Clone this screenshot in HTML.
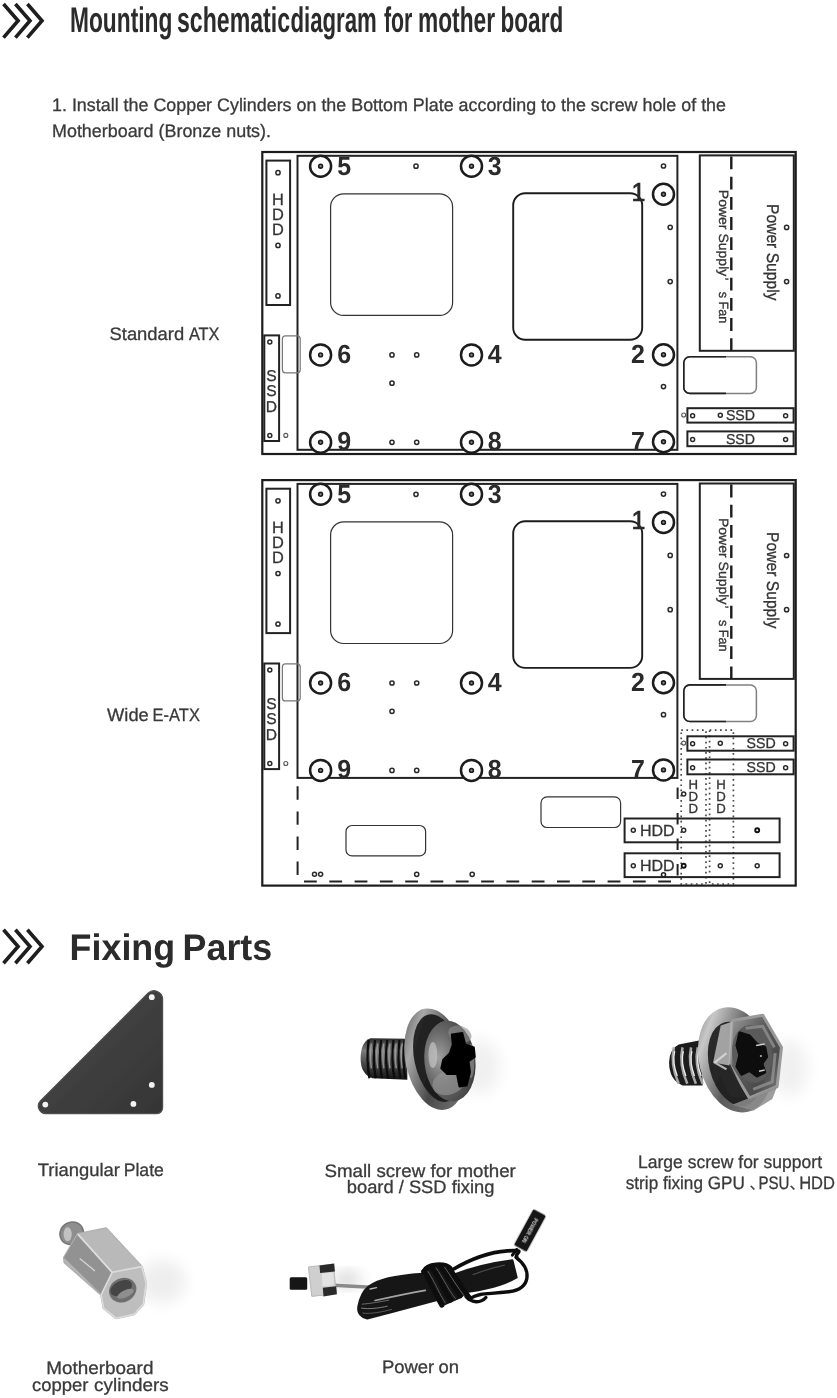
<!DOCTYPE html>
<html lang="en">
<head>
<meta charset="utf-8">
<title>Mounting schematic diagram for mother board</title>
<style>
html,body{margin:0;padding:0;background:#fff;}
body{width:837px;height:1398px;overflow:hidden;position:relative;font-family:"Liberation Sans","Noto Sans CJK SC",sans-serif;}
svg{position:absolute;left:0;top:0;display:block;will-change:transform;}
svg text{font-family:"Liberation Sans","Noto Sans CJK SC",sans-serif;text-rendering:geometricPrecision;}
.num{font-weight:bold;font-size:26.2px;fill:#2a2a2a;}
.lbl{fill:#333;stroke:#333;stroke-width:0.3px;}
.t{fill:#3a3a3a;font-size:18px;stroke:#3a3a3a;stroke-width:0.3px;}
.h1{fill:#2b2b2b;font-weight:bold;font-size:35.6px;}
.h2{fill:#2b2b2b;font-weight:bold;font-size:37px;}
</style>
</head>
<body>
<svg width="837" height="1398" viewBox="0 0 837 1398">
<g fill="none" stroke="#1e1e1e" stroke-width="3.6" stroke-linejoin="miter"><polyline points="3.5,4.0 18.1,20.8 3.5,37.6"/><polyline points="15.4,4.0 30.0,20.8 15.4,37.6"/><polyline points="27.4,4.0 42.0,20.8 27.4,37.6"/></g><g fill="none" stroke="#1e1e1e" stroke-width="3.6" stroke-linejoin="miter"><polyline points="3.5,929.8 18.1,946.5 3.5,963.2"/><polyline points="15.4,929.8 30.0,946.5 15.4,963.2"/><polyline points="27.4,929.8 42.0,946.5 27.4,963.2"/></g>
<!-- headings and copy -->
<text y="32" class="h1"><tspan x="70" textLength="102.4" lengthAdjust="spacingAndGlyphs">Mounting</tspan> <tspan x="177" textLength="113" lengthAdjust="spacingAndGlyphs">schematic</tspan> <tspan x="290.4" textLength="86.4" lengthAdjust="spacingAndGlyphs">diagram</tspan> <tspan x="384" textLength="28.4" lengthAdjust="spacingAndGlyphs">for</tspan> <tspan x="418" textLength="77" lengthAdjust="spacingAndGlyphs">mother</tspan> <tspan x="500.6" textLength="62.6" lengthAdjust="spacingAndGlyphs">board</tspan></text>
<text x="52" y="111" class="t" textLength="674" lengthAdjust="spacingAndGlyphs">1. Install the Copper Cylinders on the Bottom Plate according to the screw hole of the</text>
<text x="52" y="136.8" class="t" textLength="219" lengthAdjust="spacingAndGlyphs">Motherboard (Bronze nuts).</text>
<text y="340" class="t"><tspan x="109.5" textLength="74.7" lengthAdjust="spacingAndGlyphs">Standard</tspan> <tspan x="188.9" textLength="30.6" lengthAdjust="spacingAndGlyphs">ATX</tspan></text>
<text y="720.6" class="t"><tspan x="107.1" textLength="41.7" lengthAdjust="spacingAndGlyphs">Wide</tspan> <tspan x="152.6" textLength="47.3" lengthAdjust="spacingAndGlyphs">E-ATX</tspan></text>
<text y="959.7" class="h2"><tspan x="69.6" textLength="105.6" lengthAdjust="spacingAndGlyphs">Fixing</tspan> <tspan x="182.6" textLength="89.6" lengthAdjust="spacingAndGlyphs">Parts</tspan></text>
<text y="1176.4" class="t"><tspan x="37.7" textLength="82.2" lengthAdjust="spacingAndGlyphs">Triangular</tspan> <tspan x="123.7" textLength="40.2" lengthAdjust="spacingAndGlyphs">Plate</tspan></text>
<text x="324.4" y="1176.6" class="t" textLength="191.4" lengthAdjust="spacingAndGlyphs">Small screw for mother</text>
<text x="346.8" y="1193.2" class="t" textLength="147.6" lengthAdjust="spacingAndGlyphs">board / SSD fixing</text>
<text x="638" y="1168.2" class="t" textLength="184" lengthAdjust="spacingAndGlyphs">Large screw for support</text>
<text y="1188.6" class="t"><tspan x="625.8" textLength="119" lengthAdjust="spacingAndGlyphs">strip fixing GPU</tspan> <tspan x="749.4" font-size="15">、</tspan><tspan x="758.4" textLength="31" lengthAdjust="spacingAndGlyphs">PSU</tspan><tspan x="789.6" font-size="15">、</tspan><tspan x="799.2" textLength="35.8" lengthAdjust="spacingAndGlyphs">HDD</tspan></text>
<text y="1373.6" class="t"><tspan x="46.3" textLength="107.1" lengthAdjust="spacingAndGlyphs">Motherboard</tspan></text>
<text y="1390.6" class="t"><tspan x="31.9" textLength="56.5" lengthAdjust="spacingAndGlyphs">copper</tspan> <tspan x="94.1" textLength="74.6" lengthAdjust="spacingAndGlyphs">cylinders</tspan></text>
<text y="1373.4" class="t"><tspan x="381.9" textLength="52.3" lengthAdjust="spacingAndGlyphs">Power</tspan> <tspan x="438.5" textLength="20.5" lengthAdjust="spacingAndGlyphs">on</tspan></text>
<!-- diagram: Standard ATX -->
<g transform="translate(0,0.0)">
<rect x="262.3" y="152" width="533.4" height="302.0" fill="none" stroke="#1c1c1c" stroke-width="2.2"/>
<rect x="297.5" y="155.8" width="379.9" height="294" fill="none" stroke="#222" stroke-width="2"/>
<rect x="266.4" y="160.6" width="23.7" height="144.4" fill="none" stroke="#222" stroke-width="2"/>
<circle cx="278.0" cy="172.7" r="2.1" fill="#fff" stroke="#2a2a2a" stroke-width="1.5"/>
<circle cx="278.0" cy="245.4" r="2.1" fill="#fff" stroke="#2a2a2a" stroke-width="1.5"/>
<circle cx="278.0" cy="295.9" r="2.1" fill="#fff" stroke="#2a2a2a" stroke-width="1.5"/>
<text x="278.0" y="204.8" class="lbl" font-size="16.4" text-anchor="middle">H</text><text x="278.0" y="220.1" class="lbl" font-size="16.4" text-anchor="middle">D</text><text x="278.0" y="235.3" class="lbl" font-size="16.4" text-anchor="middle">D</text>
<rect x="264.3" y="335.4" width="14.8" height="105.6" fill="none" stroke="#222" stroke-width="2"/>
<circle cx="269.8" cy="342.0" r="2.0" fill="#fff" stroke="#2a2a2a" stroke-width="1.5"/>
<circle cx="269.8" cy="435.5" r="2.0" fill="#fff" stroke="#2a2a2a" stroke-width="1.5"/>
<circle cx="285.8" cy="435.4" r="2.0" fill="#fff" stroke="#555" stroke-width="1.1"/>
<text x="271.5" y="381.2" class="lbl" font-size="15.6" text-anchor="middle">S</text><text x="271.5" y="396.4" class="lbl" font-size="15.6" text-anchor="middle">S</text><text x="271.5" y="412.2" class="lbl" font-size="15.6" text-anchor="middle">D</text>
<rect x="282.4" y="335.8" width="17.8" height="37" rx="3" fill="none" stroke="#777" stroke-width="1.2"/>
<rect x="330.6" y="193.8" width="122" height="121.6" rx="13" fill="none" stroke="#333" stroke-width="1.2"/>
<rect x="513.2" y="193.2" width="129" height="146.6" rx="12" fill="none" stroke="#1c1c1c" stroke-width="1.9"/>
<text x="337.2" y="174.8" class="num" textLength="13.9" lengthAdjust="spacingAndGlyphs">5</text>
<text x="487.8" y="174.8" class="num" textLength="13.9" lengthAdjust="spacingAndGlyphs">3</text>
<text x="631.5" y="201.4" class="num" style="font-weight:normal;stroke:#2a2a2a;stroke-width:0.7px" textLength="13.9" lengthAdjust="spacingAndGlyphs">1</text>
<text x="337.2" y="363.0" class="num" textLength="13.9" lengthAdjust="spacingAndGlyphs">6</text>
<text x="487.8" y="363.0" class="num" textLength="13.9" lengthAdjust="spacingAndGlyphs">4</text>
<text x="631.0" y="362.8" class="num" textLength="13.9" lengthAdjust="spacingAndGlyphs">2</text>
<text x="337.2" y="450.3" class="num" textLength="13.9" lengthAdjust="spacingAndGlyphs">9</text>
<text x="487.8" y="450.3" class="num" textLength="13.9" lengthAdjust="spacingAndGlyphs">8</text>
<text x="631.0" y="450.0" class="num" textLength="13.9" lengthAdjust="spacingAndGlyphs">7</text>
<circle cx="320.6" cy="166.2" r="10.5" fill="#fff" stroke="#1c1c1c" stroke-width="2.5"/><circle cx="320.6" cy="166.2" r="1.9" fill="#8a8a8a" stroke="#1c1c1c" stroke-width="1.6"/>
<circle cx="471.5" cy="166.2" r="10.5" fill="#fff" stroke="#1c1c1c" stroke-width="2.5"/><circle cx="471.5" cy="166.2" r="1.9" fill="#8a8a8a" stroke="#1c1c1c" stroke-width="1.6"/>
<circle cx="663.5" cy="194.3" r="10.5" fill="#fff" stroke="#1c1c1c" stroke-width="2.5"/><circle cx="663.5" cy="194.3" r="1.9" fill="#8a8a8a" stroke="#1c1c1c" stroke-width="1.6"/>
<circle cx="320.6" cy="354.9" r="10.5" fill="#fff" stroke="#1c1c1c" stroke-width="2.5"/><circle cx="320.6" cy="354.9" r="1.9" fill="#8a8a8a" stroke="#1c1c1c" stroke-width="1.6"/>
<circle cx="471.5" cy="354.9" r="10.5" fill="#fff" stroke="#1c1c1c" stroke-width="2.5"/><circle cx="471.5" cy="354.9" r="1.9" fill="#8a8a8a" stroke="#1c1c1c" stroke-width="1.6"/>
<circle cx="663.5" cy="354.7" r="10.5" fill="#fff" stroke="#1c1c1c" stroke-width="2.5"/><circle cx="663.5" cy="354.7" r="1.9" fill="#8a8a8a" stroke="#1c1c1c" stroke-width="1.6"/>
<circle cx="320.6" cy="442.3" r="10.5" fill="#fff" stroke="#1c1c1c" stroke-width="2.5"/><circle cx="320.6" cy="442.3" r="1.9" fill="#8a8a8a" stroke="#1c1c1c" stroke-width="1.6"/>
<circle cx="471.5" cy="442.3" r="10.5" fill="#fff" stroke="#1c1c1c" stroke-width="2.5"/><circle cx="471.5" cy="442.3" r="1.9" fill="#8a8a8a" stroke="#1c1c1c" stroke-width="1.6"/>
<circle cx="663.5" cy="441.8" r="10.5" fill="#fff" stroke="#1c1c1c" stroke-width="2.5"/><circle cx="663.5" cy="441.8" r="1.9" fill="#8a8a8a" stroke="#1c1c1c" stroke-width="1.6"/>
<circle cx="416.0" cy="166.2" r="2.1" fill="#fff" stroke="#2a2a2a" stroke-width="1.5"/>
<circle cx="663.5" cy="166.0" r="2.1" fill="#fff" stroke="#2a2a2a" stroke-width="1.5"/>
<circle cx="670.2" cy="227.3" r="2.1" fill="#fff" stroke="#2a2a2a" stroke-width="1.5"/>
<circle cx="670.2" cy="281.6" r="2.1" fill="#fff" stroke="#2a2a2a" stroke-width="1.5"/>
<circle cx="392.0" cy="354.9" r="2.1" fill="#fff" stroke="#2a2a2a" stroke-width="1.5"/>
<circle cx="416.7" cy="354.9" r="2.1" fill="#fff" stroke="#2a2a2a" stroke-width="1.5"/>
<circle cx="392.0" cy="383.2" r="2.1" fill="#fff" stroke="#2a2a2a" stroke-width="1.5"/>
<circle cx="392.0" cy="442.3" r="2.1" fill="#fff" stroke="#2a2a2a" stroke-width="1.5"/>
<circle cx="416.7" cy="442.3" r="2.1" fill="#fff" stroke="#2a2a2a" stroke-width="1.5"/>
<circle cx="663.5" cy="386.6" r="2.1" fill="#fff" stroke="#2a2a2a" stroke-width="1.5"/>
<rect x="699.8" y="155.4" width="94" height="195.4" fill="none" stroke="#222" stroke-width="2"/>
<line x1="731.3" y1="156.5" x2="731.3" y2="351" stroke="#1c1c1c" stroke-width="2.4" stroke-dasharray="12.8 7.4"/>
<text transform="translate(719.4,189.8) rotate(90)" class="lbl" font-size="13.4"><tspan x="0" textLength="86.5" lengthAdjust="spacingAndGlyphs">Power Supply</tspan><tspan x="87.6">’</tspan><tspan x="102" textLength="31.6" lengthAdjust="spacingAndGlyphs">s Fan</tspan></text>
<text transform="translate(766.5,204) rotate(90)" class="lbl" font-size="17" textLength="96.5" lengthAdjust="spacingAndGlyphs">Power Supply</text>
<circle cx="786.6" cy="227.4" r="2.1" fill="#fff" stroke="#2a2a2a" stroke-width="1.5"/>
<circle cx="786.6" cy="281.6" r="2.1" fill="#fff" stroke="#2a2a2a" stroke-width="1.5"/>
<rect x="683.8" y="356.8" width="72.6" height="36.6" rx="6" fill="none" stroke="#808080" stroke-width="1.5"/>
<path d="M726 356.8 H689.8 a6 6 0 0 0 -6 6 V387.4 a6 6 0 0 0 6 6 H726" fill="none" stroke="#222" stroke-width="1.6"/>
<rect x="687.4" y="408.2" width="106.2" height="14.4" fill="none" stroke="#222" stroke-width="2"/>
<rect x="687.4" y="431.4" width="106.2" height="14.8" fill="none" stroke="#222" stroke-width="2"/>
<circle cx="692.6" cy="415.7" r="2.0" fill="#fff" stroke="#2a2a2a" stroke-width="1.5"/>
<circle cx="720.3" cy="415.2" r="2.0" fill="#fff" stroke="#2a2a2a" stroke-width="1.5"/>
<circle cx="785.6" cy="415.7" r="2.0" fill="#fff" stroke="#2a2a2a" stroke-width="1.5"/>
<circle cx="683.7" cy="415.0" r="2.0" fill="#fff" stroke="#555" stroke-width="1.1"/>
<circle cx="692.6" cy="439.6" r="2.0" fill="#fff" stroke="#2a2a2a" stroke-width="1.5"/>
<circle cx="785.6" cy="439.6" r="2.0" fill="#fff" stroke="#2a2a2a" stroke-width="1.5"/>
<text x="740.5" y="420.4" class="lbl" font-size="14.2" text-anchor="middle">SSD</text>
<text x="740.5" y="444.2" class="lbl" font-size="14.2" text-anchor="middle">SSD</text>
</g>
<!-- diagram: Wide E-ATX -->
<g transform="translate(0,328.1)">
<rect x="262.3" y="152" width="533.4" height="405.5" fill="none" stroke="#1c1c1c" stroke-width="2.2"/>
<rect x="297.5" y="155.8" width="379.9" height="294" fill="none" stroke="#222" stroke-width="2"/>
<rect x="266.4" y="160.6" width="23.7" height="144.4" fill="none" stroke="#222" stroke-width="2"/>
<circle cx="278.0" cy="172.7" r="2.1" fill="#fff" stroke="#2a2a2a" stroke-width="1.5"/>
<circle cx="278.0" cy="245.4" r="2.1" fill="#fff" stroke="#2a2a2a" stroke-width="1.5"/>
<circle cx="278.0" cy="295.9" r="2.1" fill="#fff" stroke="#2a2a2a" stroke-width="1.5"/>
<text x="278.0" y="204.8" class="lbl" font-size="16.4" text-anchor="middle">H</text><text x="278.0" y="220.1" class="lbl" font-size="16.4" text-anchor="middle">D</text><text x="278.0" y="235.3" class="lbl" font-size="16.4" text-anchor="middle">D</text>
<rect x="264.3" y="335.4" width="14.8" height="105.6" fill="none" stroke="#222" stroke-width="2"/>
<circle cx="269.8" cy="342.0" r="2.0" fill="#fff" stroke="#2a2a2a" stroke-width="1.5"/>
<circle cx="269.8" cy="435.5" r="2.0" fill="#fff" stroke="#2a2a2a" stroke-width="1.5"/>
<circle cx="285.8" cy="435.4" r="2.0" fill="#fff" stroke="#555" stroke-width="1.1"/>
<text x="271.5" y="381.2" class="lbl" font-size="15.6" text-anchor="middle">S</text><text x="271.5" y="396.4" class="lbl" font-size="15.6" text-anchor="middle">S</text><text x="271.5" y="412.2" class="lbl" font-size="15.6" text-anchor="middle">D</text>
<rect x="282.4" y="335.8" width="17.8" height="37" rx="3" fill="none" stroke="#777" stroke-width="1.2"/>
<rect x="330.6" y="193.8" width="122" height="121.6" rx="13" fill="none" stroke="#333" stroke-width="1.2"/>
<rect x="513.2" y="193.2" width="129" height="146.6" rx="12" fill="none" stroke="#1c1c1c" stroke-width="1.9"/>
<text x="337.2" y="174.8" class="num" textLength="13.9" lengthAdjust="spacingAndGlyphs">5</text>
<text x="487.8" y="174.8" class="num" textLength="13.9" lengthAdjust="spacingAndGlyphs">3</text>
<text x="631.5" y="201.4" class="num" style="font-weight:normal;stroke:#2a2a2a;stroke-width:0.7px" textLength="13.9" lengthAdjust="spacingAndGlyphs">1</text>
<text x="337.2" y="363.0" class="num" textLength="13.9" lengthAdjust="spacingAndGlyphs">6</text>
<text x="487.8" y="363.0" class="num" textLength="13.9" lengthAdjust="spacingAndGlyphs">4</text>
<text x="631.0" y="362.8" class="num" textLength="13.9" lengthAdjust="spacingAndGlyphs">2</text>
<text x="337.2" y="450.3" class="num" textLength="13.9" lengthAdjust="spacingAndGlyphs">9</text>
<text x="487.8" y="450.3" class="num" textLength="13.9" lengthAdjust="spacingAndGlyphs">8</text>
<text x="631.0" y="450.0" class="num" textLength="13.9" lengthAdjust="spacingAndGlyphs">7</text>
<circle cx="320.6" cy="166.2" r="10.5" fill="#fff" stroke="#1c1c1c" stroke-width="2.5"/><circle cx="320.6" cy="166.2" r="1.9" fill="#8a8a8a" stroke="#1c1c1c" stroke-width="1.6"/>
<circle cx="471.5" cy="166.2" r="10.5" fill="#fff" stroke="#1c1c1c" stroke-width="2.5"/><circle cx="471.5" cy="166.2" r="1.9" fill="#8a8a8a" stroke="#1c1c1c" stroke-width="1.6"/>
<circle cx="663.5" cy="194.3" r="10.5" fill="#fff" stroke="#1c1c1c" stroke-width="2.5"/><circle cx="663.5" cy="194.3" r="1.9" fill="#8a8a8a" stroke="#1c1c1c" stroke-width="1.6"/>
<circle cx="320.6" cy="354.9" r="10.5" fill="#fff" stroke="#1c1c1c" stroke-width="2.5"/><circle cx="320.6" cy="354.9" r="1.9" fill="#8a8a8a" stroke="#1c1c1c" stroke-width="1.6"/>
<circle cx="471.5" cy="354.9" r="10.5" fill="#fff" stroke="#1c1c1c" stroke-width="2.5"/><circle cx="471.5" cy="354.9" r="1.9" fill="#8a8a8a" stroke="#1c1c1c" stroke-width="1.6"/>
<circle cx="663.5" cy="354.7" r="10.5" fill="#fff" stroke="#1c1c1c" stroke-width="2.5"/><circle cx="663.5" cy="354.7" r="1.9" fill="#8a8a8a" stroke="#1c1c1c" stroke-width="1.6"/>
<circle cx="320.6" cy="442.3" r="10.5" fill="#fff" stroke="#1c1c1c" stroke-width="2.5"/><circle cx="320.6" cy="442.3" r="1.9" fill="#8a8a8a" stroke="#1c1c1c" stroke-width="1.6"/>
<circle cx="471.5" cy="442.3" r="10.5" fill="#fff" stroke="#1c1c1c" stroke-width="2.5"/><circle cx="471.5" cy="442.3" r="1.9" fill="#8a8a8a" stroke="#1c1c1c" stroke-width="1.6"/>
<circle cx="663.5" cy="441.8" r="10.5" fill="#fff" stroke="#1c1c1c" stroke-width="2.5"/><circle cx="663.5" cy="441.8" r="1.9" fill="#8a8a8a" stroke="#1c1c1c" stroke-width="1.6"/>
<circle cx="416.0" cy="166.2" r="2.1" fill="#fff" stroke="#2a2a2a" stroke-width="1.5"/>
<circle cx="663.5" cy="166.0" r="2.1" fill="#fff" stroke="#2a2a2a" stroke-width="1.5"/>
<circle cx="670.2" cy="227.3" r="2.1" fill="#fff" stroke="#2a2a2a" stroke-width="1.5"/>
<circle cx="670.2" cy="281.6" r="2.1" fill="#fff" stroke="#2a2a2a" stroke-width="1.5"/>
<circle cx="392.0" cy="354.9" r="2.1" fill="#fff" stroke="#2a2a2a" stroke-width="1.5"/>
<circle cx="416.7" cy="354.9" r="2.1" fill="#fff" stroke="#2a2a2a" stroke-width="1.5"/>
<circle cx="392.0" cy="383.2" r="2.1" fill="#fff" stroke="#2a2a2a" stroke-width="1.5"/>
<circle cx="392.0" cy="442.3" r="2.1" fill="#fff" stroke="#2a2a2a" stroke-width="1.5"/>
<circle cx="416.7" cy="442.3" r="2.1" fill="#fff" stroke="#2a2a2a" stroke-width="1.5"/>
<circle cx="663.5" cy="386.6" r="2.1" fill="#fff" stroke="#2a2a2a" stroke-width="1.5"/>
<rect x="699.8" y="155.4" width="94" height="195.4" fill="none" stroke="#222" stroke-width="2"/>
<line x1="731.3" y1="156.5" x2="731.3" y2="351" stroke="#1c1c1c" stroke-width="2.4" stroke-dasharray="12.8 7.4"/>
<text transform="translate(719.4,189.8) rotate(90)" class="lbl" font-size="13.4"><tspan x="0" textLength="86.5" lengthAdjust="spacingAndGlyphs">Power Supply</tspan><tspan x="87.6">’</tspan><tspan x="102" textLength="31.6" lengthAdjust="spacingAndGlyphs">s Fan</tspan></text>
<text transform="translate(766.5,204) rotate(90)" class="lbl" font-size="17" textLength="96.5" lengthAdjust="spacingAndGlyphs">Power Supply</text>
<circle cx="786.6" cy="227.4" r="2.1" fill="#fff" stroke="#2a2a2a" stroke-width="1.5"/>
<circle cx="786.6" cy="281.6" r="2.1" fill="#fff" stroke="#2a2a2a" stroke-width="1.5"/>
<rect x="683.8" y="356.8" width="72.6" height="36.6" rx="6" fill="none" stroke="#808080" stroke-width="1.5"/>
<path d="M726 356.8 H689.8 a6 6 0 0 0 -6 6 V387.4 a6 6 0 0 0 6 6 H726" fill="none" stroke="#222" stroke-width="1.6"/>
<rect x="681.2" y="402" width="24.8" height="154" fill="none" stroke="#4a4a4a" stroke-width="1.7" stroke-dasharray="1.7 3.5"/>
<rect x="709.6" y="402" width="23.8" height="154" fill="none" stroke="#4a4a4a" stroke-width="1.7" stroke-dasharray="1.7 3.5"/>
<rect x="687.4" y="408.2" width="106.2" height="14.4" fill="none" stroke="#222" stroke-width="2"/>
<rect x="687.4" y="431.4" width="106.2" height="14.8" fill="none" stroke="#222" stroke-width="2"/>
<circle cx="692.6" cy="415.7" r="2.0" fill="#fff" stroke="#2a2a2a" stroke-width="1.5"/>
<circle cx="720.3" cy="415.2" r="2.0" fill="#fff" stroke="#2a2a2a" stroke-width="1.5"/>
<circle cx="785.6" cy="415.7" r="2.0" fill="#fff" stroke="#2a2a2a" stroke-width="1.5"/>
<circle cx="683.7" cy="415.0" r="2.0" fill="#fff" stroke="#555" stroke-width="1.1"/>
<circle cx="692.6" cy="439.6" r="2.0" fill="#fff" stroke="#2a2a2a" stroke-width="1.5"/>
<circle cx="785.6" cy="439.6" r="2.0" fill="#fff" stroke="#2a2a2a" stroke-width="1.5"/>
<text x="761.2" y="420.4" class="lbl" font-size="14.2" text-anchor="middle">SSD</text>
<text x="761.2" y="444.2" class="lbl" font-size="14.2" text-anchor="middle">SSD</text>
<line x1="297.6" y1="458.2" x2="297.6" y2="548" stroke="#222" stroke-width="2" stroke-dasharray="13.4 11.7"/>
<line x1="304" y1="553.5" x2="672" y2="553.5" stroke="#222" stroke-width="2" stroke-dasharray="12.8 12.5"/>
<line x1="677.6" y1="459.4" x2="677.6" y2="550" stroke="#222" stroke-width="2" stroke-dasharray="11.6 13.9"/>
<rect x="346" y="497.4" width="79.6" height="30.4" rx="6" fill="none" stroke="#333" stroke-width="1.2"/>
<rect x="541" y="468.8" width="79.6" height="30.6" rx="6" fill="none" stroke="#333" stroke-width="1.2"/>
<rect x="624.6" y="490.4" width="155" height="23.8" fill="none" stroke="#222" stroke-width="2"/>
<rect x="624.6" y="525.2" width="155" height="23.8" fill="none" stroke="#222" stroke-width="2"/>
<text x="657.3" y="508.4" class="lbl" font-size="16" text-anchor="middle">HDD</text>
<text x="657.3" y="543.4" class="lbl" font-size="16" text-anchor="middle">HDD</text>
<circle cx="633.3" cy="502.2" r="2.0" fill="#fff" stroke="#2a2a2a" stroke-width="1.5"/>
<circle cx="683.7" cy="502.2" r="2.0" fill="#fff" stroke="#2a2a2a" stroke-width="1.5"/>
<circle cx="757.2" cy="502.2" r="2.0" fill="#fff" stroke="#111" stroke-width="1.9"/>
<circle cx="633.3" cy="537.6" r="2.0" fill="#fff" stroke="#2a2a2a" stroke-width="1.5"/>
<circle cx="683.7" cy="537.6" r="2.0" fill="#fff" stroke="#111" stroke-width="1.9"/>
<circle cx="720.3" cy="537.6" r="2.0" fill="#fff" stroke="#2a2a2a" stroke-width="1.5"/>
<circle cx="757.2" cy="537.6" r="2.0" fill="#fff" stroke="#2a2a2a" stroke-width="1.5"/>
<circle cx="663.5" cy="546.6" r="2.0" fill="#fff" stroke="#222" stroke-width="1.6"/>
<circle cx="683.7" cy="465.8" r="2.0" fill="#fff" stroke="#2a2a2a" stroke-width="1.5"/>
<circle cx="314.5" cy="546.2" r="2.0" fill="#fff" stroke="#2a2a2a" stroke-width="1.5"/>
<circle cx="320.6" cy="546.2" r="2.0" fill="#fff" stroke="#2a2a2a" stroke-width="1.5"/>
<circle cx="416.7" cy="546.2" r="2.1" fill="#fff" stroke="#2a2a2a" stroke-width="1.5"/>
<circle cx="472.2" cy="546.2" r="2.1" fill="#fff" stroke="#2a2a2a" stroke-width="1.5"/>
<text x="693.3" y="460.8" class="lbl" font-size="13.2" text-anchor="middle">H</text><text x="693.3" y="472.6" class="lbl" font-size="13.2" text-anchor="middle">D</text><text x="693.3" y="485.0" class="lbl" font-size="13.2" text-anchor="middle">D</text>
<text x="721.0" y="460.8" class="lbl" font-size="13.2" text-anchor="middle">H</text><text x="721.0" y="472.6" class="lbl" font-size="13.2" text-anchor="middle">D</text><text x="721.0" y="485.0" class="lbl" font-size="13.2" text-anchor="middle">D</text>
</g>
<!-- fixing parts illustrations -->
<defs>
  <filter id="soft" x="-10%" y="-10%" width="120%" height="120%"><feGaussianBlur stdDeviation="0.55"/></filter>
  <filter id="soft2" x="-10%" y="-10%" width="120%" height="120%"><feGaussianBlur stdDeviation="0.75"/></filter>
  <filter id="shadow" x="-60%" y="-60%" width="220%" height="220%"><feGaussianBlur stdDeviation="8"/></filter>
  <linearGradient id="plateG" x1="0" y1="0" x2="1" y2="1">
    <stop offset="0" stop-color="#4c4c4c"/><stop offset="0.55" stop-color="#3e3e3e"/><stop offset="1" stop-color="#353535"/>
  </linearGradient>
  <linearGradient id="threadG" x1="0" y1="0" x2="0" y2="1">
    <stop offset="0" stop-color="#2a2a2a"/><stop offset="0.3" stop-color="#7c7c7c"/><stop offset="0.6" stop-color="#4a4a4a"/><stop offset="1" stop-color="#141414"/>
  </linearGradient>
  <linearGradient id="washerG" x1="0" y1="0" x2="1" y2="1">
    <stop offset="0" stop-color="#4a4a4a"/><stop offset="0.25" stop-color="#a8a8a8"/><stop offset="0.55" stop-color="#4a4a4a"/><stop offset="1" stop-color="#808080"/>
  </linearGradient>
  <radialGradient id="domeG" cx="0.3" cy="0.45" r="0.8">
    <stop offset="0" stop-color="#a0a0a0"/><stop offset="0.4" stop-color="#6a6a6a"/><stop offset="0.8" stop-color="#484848"/><stop offset="1" stop-color="#2a2a2a"/>
  </radialGradient>
  <linearGradient id="hexG" x1="0" y1="0" x2="1" y2="1">
    <stop offset="0" stop-color="#9c9c9c"/><stop offset="0.4" stop-color="#5a5a5a"/><stop offset="0.7" stop-color="#4c4c4c"/><stop offset="1" stop-color="#8a8a8a"/>
  </linearGradient>
  <linearGradient id="flangeG" x1="0" y1="0" x2="1" y2="1">
    <stop offset="0" stop-color="#6a6a6a"/><stop offset="0.2" stop-color="#c8c8c8"/><stop offset="0.5" stop-color="#5a5a5a"/><stop offset="1" stop-color="#8a8a8a"/>
  </linearGradient>
  <linearGradient id="stdG" x1="0" y1="0" x2="1" y2="1">
    <stop offset="0" stop-color="#a8a8a8"/><stop offset="0.5" stop-color="#c4c4c4"/><stop offset="1" stop-color="#9a9a9a"/>
  </linearGradient>
</defs>

<!-- triangular plate -->
<g filter="url(#soft)">
  <path d="M148 993.2 A8.6 8.6 0 0 1 162.6 999.4 V1108 A5.6 5.6 0 0 1 157 1113.6 H46 A7.6 7.6 0 0 1 40.6 1100.6 Z" fill="url(#plateG)" stroke="#505050" stroke-width="1.2"/>
  <circle cx="151.8" cy="997.2" r="2.9" fill="#f4f4f4"/>
  <circle cx="151.8" cy="1084.9" r="2.9" fill="#f4f4f4"/>
  <circle cx="133.4" cy="1103.9" r="2.9" fill="#f4f4f4"/>
  <circle cx="45.3" cy="1104.6" r="2.9" fill="#f4f4f4"/>
</g>
<!-- small screw -->
<ellipse cx="479.6" cy="1066.5" rx="20" ry="28" fill="#000" opacity="0.06" filter="url(#shadow)"/>
<g filter="url(#soft2)">
<path d="M370.6 1038.2 L407.3 1038.7 L407.3 1079.8 L372.5 1078.3 Q360.6 1074.1 360.6 1058.8 Q360.6 1041.6 370.6 1038.2 Z" fill="url(#threadG)"/>
<path d="M368.7 1040.1 Q366.0 1058.8 369.4 1078.3" fill="none" stroke="#0a0a0a" stroke-width="2.2"/>
<path d="M371.4 1043.5 Q369.4 1055.0 371.4 1068.4" fill="none" stroke="#a0a0a0" stroke-width="1.5" opacity="0.85"/>
<path d="M375.0 1040.1 Q372.3 1058.8 375.7 1078.3" fill="none" stroke="#0a0a0a" stroke-width="2.2"/>
<path d="M377.7 1043.5 Q375.7 1055.0 377.7 1068.4" fill="none" stroke="#a0a0a0" stroke-width="1.5" opacity="0.85"/>
<path d="M381.1 1040.1 Q378.4 1058.8 381.9 1078.3" fill="none" stroke="#0a0a0a" stroke-width="2.2"/>
<path d="M383.8 1043.5 Q381.9 1055.0 383.8 1068.4" fill="none" stroke="#a0a0a0" stroke-width="1.5" opacity="0.85"/>
<path d="M387.2 1040.1 Q384.5 1058.8 388.0 1078.3" fill="none" stroke="#0a0a0a" stroke-width="2.2"/>
<path d="M389.9 1043.5 Q388.0 1055.0 389.9 1068.4" fill="none" stroke="#a0a0a0" stroke-width="1.5" opacity="0.85"/>
<path d="M393.5 1040.1 Q390.9 1058.8 394.3 1078.3" fill="none" stroke="#0a0a0a" stroke-width="2.2"/>
<path d="M396.2 1043.5 Q394.3 1055.0 396.2 1068.4" fill="none" stroke="#a0a0a0" stroke-width="1.5" opacity="0.85"/>
<path d="M399.6 1040.1 Q397.0 1058.8 400.4 1078.3" fill="none" stroke="#0a0a0a" stroke-width="2.2"/>
<path d="M402.3 1043.5 Q400.4 1055.0 402.3 1068.4" fill="none" stroke="#a0a0a0" stroke-width="1.5" opacity="0.85"/>
<path d="M404.6 1040.1 Q401.9 1058.8 405.4 1078.3" fill="none" stroke="#0a0a0a" stroke-width="2.2"/>
<path d="M407.3 1043.5 Q405.4 1055.0 407.3 1068.4" fill="none" stroke="#a0a0a0" stroke-width="1.5" opacity="0.85"/>
<ellipse cx="435.0" cy="1059.2" rx="29.5" ry="51.5" transform="rotate(-12 435.0 1059.2)" fill="url(#washerG)"/>
<ellipse cx="438.0" cy="1058.7" rx="23.5" ry="44.5" transform="rotate(-12 435.0 1059.2)" fill="#1a1a1a" opacity="0.92"/>
<ellipse cx="449.9" cy="1061.1" rx="25.5" ry="40.5" transform="rotate(-6 449.9 1061.1)" fill="url(#domeG)"/>
<ellipse cx="448.9" cy="1082.1" rx="17" ry="12" transform="rotate(-20 449.9 1082.1)" fill="#9a9a9a" opacity="0.6"/>
<ellipse cx="459.9" cy="1034.1" rx="12" ry="8" transform="rotate(20 459.9 1034.1)" fill="#8c8c8c" opacity="0.6"/>
<ellipse cx="432.9" cy="1055.1" rx="4.5" ry="13" fill="#c4c4c4" opacity="0.7"/>
<ellipse cx="470.9" cy="1061.1" rx="3.5" ry="17" fill="#8a8a8a" opacity="0.7"/>
<path d="M451.8 1034.4 L462.3 1033.0 L465.2 1044.5 L473.8 1047.4 L474.8 1056.9 L468.5 1061.1 L470.0 1072.2 L466.6 1085.6 L459.5 1086.5 L457.0 1074.1 L447.1 1074.1 L441.3 1068.4 L443.2 1059.8 L449.9 1053.1 L452.8 1044.5 Z" fill="#050505" stroke="#050505" stroke-width="2" stroke-linejoin="round"/>
</g>
<!-- large screw -->
<ellipse cx="789.6" cy="1068.4" rx="18" ry="28" fill="#000" opacity="0.06" filter="url(#shadow)"/>
<g filter="url(#soft2)">
<path d="M678.7 1044.5 L701.6 1040.1 L702.6 1085.6 L682.5 1085.6 Q669.1 1079.8 669.1 1062.6 Q669.1 1049.3 678.7 1044.5 Z" fill="#1c1c1c"/>
<path d="M673.9 1047.4 Q670.1 1064.6 678.7 1083.7" fill="none" stroke="#a6a6a6" stroke-width="2.6"/>
<path d="M674.7 1051.2 Q672.0 1062.6 677.3 1076.0" fill="none" stroke="#ececec" stroke-width="1.3"/>
<path d="M682.5 1047.4 Q678.7 1064.6 687.3 1083.7" fill="none" stroke="#a6a6a6" stroke-width="2.6"/>
<path d="M683.3 1051.2 Q680.6 1062.6 685.9 1076.0" fill="none" stroke="#ececec" stroke-width="1.3"/>
<path d="M691.1 1047.4 Q687.3 1064.6 695.9 1083.7" fill="none" stroke="#a6a6a6" stroke-width="2.6"/>
<path d="M691.9 1051.2 Q689.2 1062.6 694.5 1076.0" fill="none" stroke="#ececec" stroke-width="1.3"/>
<path d="M697.8 1047.4 Q694.0 1064.6 702.6 1083.7" fill="none" stroke="#a6a6a6" stroke-width="2.6"/>
<path d="M698.6 1051.2 Q695.9 1062.6 701.2 1076.0" fill="none" stroke="#ececec" stroke-width="1.3"/>
<ellipse cx="735.1" cy="1059.8" rx="36" ry="53.5" transform="rotate(-14 735.1 1059.8)" fill="url(#flangeG)"/>
<ellipse cx="734.1" cy="1063.8" rx="26" ry="43" transform="rotate(-14 735.1 1059.8)" fill="#1c1c1c" opacity="0.9"/>
<path d="M732.2 1020.6 L762.8 1015.2 L781.5 1047.4 L777.1 1086.5 L749.4 1098.0 L729.9 1065.5 Z" fill="url(#hexG)" stroke="#9a9a9a" stroke-width="3" stroke-linejoin="round"/>
<path d="M713.1 1062.6 L730.3 1064.6 L745.6 1097.1 L730.3 1097.1 Z" fill="#262626" opacity="0.9"/>
<path d="M713.1 1062.6 L729.3 1065.5 L732.6 1021.5 L720.7 1025.4 Z" fill="#b8b8b8" opacity="0.85"/>
<path d="M726.5 1053.1 L714.6 1062.6 L726.5 1069.3" fill="none" stroke="#e0e0e0" stroke-width="2.2" opacity="0.75" stroke-linejoin="round"/>
<path d="M732.2 1104.7 L749.4 1098.0 L777.1 1086.5 L772.3 1099.0 L753.2 1110.8 Z" fill="#8c8c8c" opacity="0.85"/>
<ellipse cx="752.3" cy="1054.0" rx="20" ry="29" transform="rotate(-8 752.3 1054.0)" fill="#5a5a5a"/>
<path d="M739.8 1033.0 L749.4 1035.9 L757.1 1044.5 L764.7 1047.4 L766.6 1056.9 L761.8 1063.6 L764.7 1072.2 L757.1 1076.0 L749.4 1070.3 L741.8 1074.1 L737.0 1066.5 L739.8 1055.0 L737.0 1045.4 Z" fill="#080808" stroke="#080808" stroke-width="3" stroke-linejoin="round"/>
<path d="M756.1 1045.4 L764.7 1043.9 M759.9 1056.0 L761.8 1056.0 M759.0 1071.2 L764.7 1069.9" stroke="#cfcfcf" stroke-width="1.5" fill="none"/>
<path d="M745.6 1028.2 L762.8 1026.3 L774.3 1047.4" fill="none" stroke="#8e8e8e" stroke-width="3" opacity="0.8" stroke-linejoin="round"/>
<path d="M775.2 1053.1 L772.3 1081.8 L753.2 1089.4" fill="none" stroke="#9a9a9a" stroke-width="3" opacity="0.7" stroke-linejoin="round"/>
</g>
<!-- motherboard standoff -->
<ellipse cx="161.9" cy="1281.5" rx="24" ry="22" fill="#000" opacity="0.065" filter="url(#shadow)"/>
<g filter="url(#soft2)">
<ellipse cx="71.7" cy="1233.3" rx="12" ry="11" transform="rotate(-30 71.7 1233.3)" fill="#8e8e8e" stroke="#767676" stroke-width="1.5"/>
<ellipse cx="67.7" cy="1234.3" rx="4" ry="7" fill="#cfcfcf" opacity="0.8"/>
<path d="M64.0 1257.6 L77.8 1234.1 L106.1 1228.3 L141.8 1266.6 L146.2 1283.4 L143.2 1304.4 L134.2 1314.3 L116.0 1318.2 L103.6 1308.2 L101.1 1294.8 L64.4 1262.4 Z" fill="url(#stdG)" stroke="#b0b0b0" stroke-width="2" stroke-linejoin="round"/>
<path d="M77.8 1234.1 L106.1 1228.3 L141.8 1266.6 L112.2 1272.3 Z" fill="#b9b9b9"/>
<path d="M64.0 1257.6 L77.8 1234.1 L112.2 1272.3 L101.7 1294.8 Z" fill="#929292"/>
<path d="M77.8 1234.1 L112.2 1272.3" stroke="#dedede" stroke-width="1.8"/>
<path d="M79.7 1258.5 L95.0 1271.0" stroke="#d6d6d6" stroke-width="1.2"/>
<path d="M112.2 1272.3 L141.8 1266.6 L146.2 1283.4 L143.2 1304.4 L134.2 1314.3 L116.0 1318.2 L103.6 1308.2 L101.1 1294.8 Z" fill="#bebebe" stroke="#dcdcdc" stroke-width="1.6" stroke-linejoin="round"/>
<ellipse cx="122.7" cy="1290.1" rx="14" ry="12" transform="rotate(-25 122.7 1290.1)" fill="#6e6e6e"/>
<ellipse cx="122.2" cy="1287.6" rx="11.5" ry="7" transform="rotate(-25 122.7 1290.1)" fill="#444"/>
<ellipse cx="123.7" cy="1294.6" rx="9" ry="3.6" transform="rotate(-25 122.7 1290.1)" fill="#8e8e8e"/>
</g>
<!-- power switch cable -->
<ellipse cx="346.9" cy="1279.6" rx="14" ry="6" fill="#000" opacity="0.22" filter="url(#shadow)"/>
<g filter="url(#soft)">
<path d="M333.5 1285.3 L380.4 1287.7" stroke="#8a8a8a" stroke-width="3.4" fill="none"/>
<path d="M368.6 1286.6 C378.7 1279.4 393.0 1275.8 423.1 1273.7 L441.8 1298.7 L393.0 1311.9 L367.2 1318.5 C361.5 1317.4 357.2 1313.1 358.3 1306.6 C360.0 1297.3 364.3 1290.1 368.6 1286.6 Z" fill="#171717" stroke="#171717" stroke-width="2" stroke-linejoin="round"/>
<path d="M453.6 1274.6 C468.7 1268.8 490.2 1263.1 512.4 1260.2 L516.7 1277.4 C504.5 1284.6 483.0 1290.3 461.5 1292.5 Z" fill="#151515" stroke="#151515" stroke-width="2" stroke-linejoin="round"/>
<g fill="none" stroke="#101010" stroke-linecap="round" stroke-linejoin="round">
<path d="M452.9 1269.5 C468.7 1260.2 487.3 1252.3 507.4 1250.9 S514.6 1253.0 516.7 1256.6" stroke-width="3.6"/>
<path d="M516.0 1257.3 C531.8 1268.8 531.8 1288.9 508.8 1291.8 S483.0 1291.8 468.7 1298.9" stroke-width="3.4"/>
<path d="M464.4 1294.6 C471.5 1304.7 481.6 1302.5 485.9 1297.5" stroke-width="3.4"/>
<path d="M516.7 1249.5 L512.4 1255.2" stroke-width="3"/>
<path d="M424.6 1271.5 L436.0 1265.8 L450.4 1267.9 L464.7 1293.0 L459.0 1297.3 L443.2 1304.5 Z" fill="#141414" stroke="#141414" stroke-width="3" stroke-linejoin="round"/>
<path d="M423.8 1271.5 C430.3 1281.5 436.0 1295.9 441.8 1305.2" stroke-width="5"/>
<path d="M431.7 1267.2 C438.9 1277.2 444.6 1291.6 450.4 1300.2" stroke-width="5"/>
<path d="M440.3 1266.1 C447.5 1275.8 453.2 1287.3 460.4 1295.9" stroke-width="5"/>
<path d="M448.9 1267.9 C454.7 1275.8 461.8 1287.3 469.0 1297.3" stroke-width="5"/>
<path d="M423.8 1271.5 C427.4 1263.6 444.6 1262.9 450.4 1268.6" stroke-width="5"/>
</g>
<g fill="none" stroke-linecap="round">
<path d="M375.1 1300.5 C393.0 1296.6 410.2 1293.0 425.3 1290.4" stroke="#b4b4b4" stroke-width="1.7" opacity="0.9"/>
<path d="M370.1 1289.0 L376.5 1287.6" stroke="#c8c8c8" stroke-width="1.4" opacity="0.9"/>
<path d="M362.2 1304.2 C371.5 1303.3 380.1 1301.9 388.7 1300.2" stroke="#707070" stroke-width="1" opacity="0.9"/>
<path d="M361.5 1308.1 C368.6 1309.5 378.7 1308.1 387.3 1306.2" stroke="#8a8a8a" stroke-width="1" opacity="0.9"/>
<path d="M362.9 1313.1 C371.5 1314.2 381.5 1311.9 391.6 1309.5" stroke="#606060" stroke-width="1" opacity="0.9"/>
<path d="M428.1 1271.5 C434.6 1281.5 439.6 1294.4 445.3 1303.0" stroke="#707070" stroke-width="1" opacity="0.8"/>
<path d="M436.0 1267.9 C443.2 1278.0 448.9 1290.9 455.4 1298.5" stroke="#707070" stroke-width="1" opacity="0.8"/>
<path d="M444.6 1267.2 C451.1 1276.5 457.5 1287.3 464.7 1296.6" stroke="#707070" stroke-width="1" opacity="0.8"/>
<path d="M473.0 1274.6 C483.0 1271.0 494.5 1267.4 504.5 1265.2" stroke="#4e4e4e" stroke-width="1.2" opacity="0.9"/>
</g>
<rect x="289.7" y="1277.3" width="17.5" height="12.5" rx="1.5" fill="#161616"/>
<path d="M308.4 1266.9 L333.5 1264.2 L336.2 1293.7 L311.8 1296.4 Z" fill="#cfcfcf" stroke="#b8b8b8" stroke-width="1"/>
<path d="M319.5 1265.6 L334.2 1263.6 L334.9 1271.6 L320.1 1272.9 Z" fill="#2a2a2a"/>
<path d="M322.8 1287.7 L336.2 1286.3 L336.9 1294.3 L323.5 1296.4 Z" fill="#2a2a2a"/>
<path d="M321.8 1273.6 L333.5 1272.6 L333.9 1285.3 L322.5 1286.3 Z" fill="#e2e2e2"/>
<g transform="translate(530.0 1230.4) rotate(28.5)"><rect x="-7.2" y="-20.5" width="14.4" height="41" rx="1.5" fill="#151515"/><text transform="rotate(90)" x="0" y="2.2" font-size="6.2" font-weight="bold" fill="#d4d4d4" text-anchor="middle" textLength="27" lengthAdjust="spacingAndGlyphs">POWER ON</text></g>
</g>
</svg>
</body>
</html>
